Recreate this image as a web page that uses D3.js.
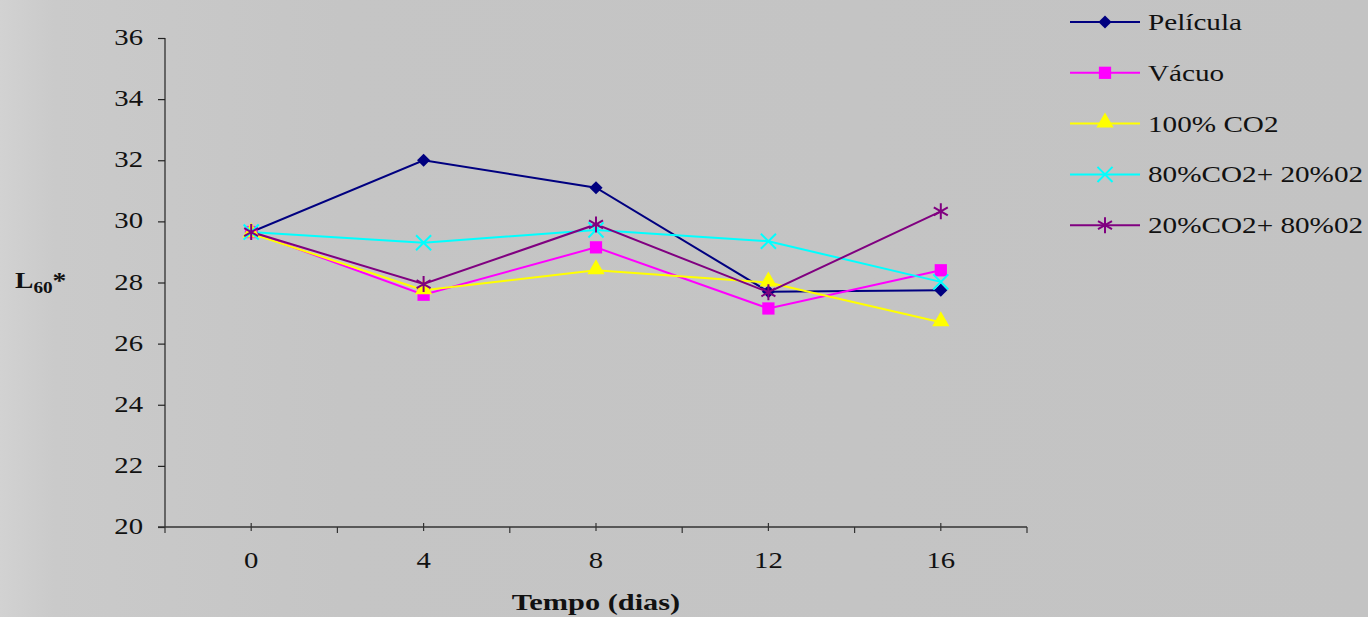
<!DOCTYPE html>
<html>
<head>
<meta charset="utf-8">
<script src="https://cdn.jsdelivr.net/npm/d3@7"></script>
<style>
  body { margin: 0; background: #c3c3c3; }
  svg { display: block; }
</style>
</head>
<body>
<div id="chart"></div>
<script>
// data
var days = ["0", "4", "8", "12", "16"]
var yTicks = [20, 22, 24, 26, 28, 30, 32, 34, 36]
var pelicula = [29.65, 32.0, 31.1, 27.7, 27.75]
var vacuo = [29.65, 27.6, 29.15, 27.15, 28.4]
var co2_100 = [29.6, 27.75, 28.4, 28.0, 26.7]
var co2_80_o2_20 = [29.65, 29.3, 29.72, 29.35, 28.02]
var co2_20_o2_80 = [29.65, 27.95, 29.9, 27.68, 30.33]

var seriesNames = ["Película", "Vácuo", "100% CO2", "80%CO2+ 20%02", "20%CO2+ 80%02"]
var seriesData = [pelicula, vacuo, co2_100, co2_80_o2_20, co2_20_o2_80]
var colors = ["#000080", "#ff00ff", "#ffff00", "#00ffff", "#800080"]
var shapes = ["diamond", "square", "triangle", "x", "star"]

var W = 1368, H = 617
var svg = d3.select("#chart").append("svg")
    .attr("width", W).attr("height", H)

// background, lighter textured strip on the left
var defs = svg.append("defs")
var grad = defs.append("linearGradient").attr("id", "bg").attr("x1", 0).attr("x2", 1).attr("y1", 0).attr("y2", 0)
grad.append("stop").attr("offset", "0").attr("stop-color", "#d2d2d2")
grad.append("stop").attr("offset", "0.04").attr("stop-color", "#cacaca")
grad.append("stop").attr("offset", "0.25").attr("stop-color", "#c5c5c5")
grad.append("stop").attr("offset", "1").attr("stop-color", "#c3c3c3")
svg.append("rect").attr("width", W).attr("height", H).attr("fill", "url(#bg)")

var plot = { left: 165, right: 1027, top: 38, bottom: 527 }

var x = d3.scaleBand()
    .domain(days)
    .range([plot.left, plot.right])
var y = d3.scaleLinear()
    .domain([20, 36])
    .range([plot.bottom, plot.top])

var font = "'Liberation Serif', 'Times New Roman', serif"
var stretch = 1.28

// text is drawn wide, like the original picture
function label(parent, px, py, str, anchor, bold, sx) {
    var g = parent.append("g")
        .attr("transform", "translate(" + px + "," + py + ") scale(" + (sx || stretch) + ",1)")
    return g.append("text")
        .attr("text-anchor", anchor || "start")
        .attr("font-family", font).attr("font-size", 23)
        .attr("font-weight", bold ? "bold" : "normal")
        .attr("fill", "#111")
        .text(str)
}

// y axis
var yAxis = svg.append("g")
    .attr("transform", "translate(" + plot.left + ",0)")
    .call(d3.axisLeft(y).tickValues(yTicks).tickSize(7).tickFormat(""))
yAxis.selectAll("path, line").attr("stroke", "#222").attr("stroke-width", 1.2)
yAxis.select(".domain").attr("d", "M0," + plot.top + "V" + plot.bottom)
yTicks.forEach(function (t) {
    label(svg, plot.left - 22, y(t) + 7, t, "end", false, 1.25)
})

// x axis (category axis, ticks at band edges and small marks at centers)
var xAxis = svg.append("g")
    .attr("transform", "translate(0," + plot.bottom + ")")
xAxis.append("line")
    .attr("x1", plot.left - 7).attr("x2", plot.right)
    .attr("stroke", "#333").attr("stroke-width", 1.5)
var edges = days.map(function (d) { return x(d) }).concat([plot.right])
xAxis.selectAll(".edge").data(edges).enter().append("line")
    .attr("x1", function (d) { return d }).attr("x2", function (d) { return d })
    .attr("y1", 0).attr("y2", 6)
    .attr("stroke", "#333").attr("stroke-width", 1.2)
xAxis.selectAll(".mid").data(days).enter().append("line")
    .attr("x1", function (d) { return x(d) + x.bandwidth() / 2 })
    .attr("x2", function (d) { return x(d) + x.bandwidth() / 2 })
    .attr("y1", -4).attr("y2", 4)
    .attr("stroke", "#333").attr("stroke-width", 1.2)
days.forEach(function (d) {
    label(svg, x(d) + x.bandwidth() / 2, 568, d, "middle", false, 1.25)
})

// axis titles
label(svg, 596, 610, "Tempo (dias)", "middle", true, 1.32)
var yt = svg.append("g").attr("transform", "translate(15,288) scale(1.2,1)")
    .append("text")
    .attr("font-family", font).attr("font-weight", "bold").attr("fill", "#111")
yt.append("tspan").attr("font-size", 23).text("L")
yt.append("tspan").attr("font-size", 16).attr("dy", 5).text("60")
yt.append("tspan").attr("font-size", 23).attr("dy", -5).text("*")

function symbolPath(shape) {
    if (shape === "diamond") return d3.symbol().type(d3.symbolDiamond2).size(110)()
    if (shape === "square") return d3.symbol().type(d3.symbolSquare).size(150)()
    if (shape === "triangle") return d3.symbol().type(d3.symbolTriangle).size(130)()
    if (shape === "x") return d3.symbol().type(d3.symbolTimes).size(150)()
    return "M0,-8V8M-7,-4L7,4M-7,4L7,-4"
}
function drawMarker(g, shape, color) {
    var p = g.append("path").attr("d", symbolPath(shape))
    if (shape === "x" || shape === "star") {
        p.attr("fill", "none").attr("stroke", color).attr("stroke-width", 2)
    } else {
        p.attr("fill", color)
        if (shape === "triangle") p.attr("transform", "translate(0,-1)")
    }
}

var line = d3.line()
    .x(function (d, i) { return x(days[i]) + x.bandwidth() / 2 })
    .y(function (d) { return y(d) })

seriesData.forEach(function (vals, s) {
    svg.append("path")
        .datum(vals)
        .attr("d", line)
        .attr("fill", "none")
        .attr("stroke", colors[s])
        .attr("stroke-width", 2)
})
seriesData.forEach(function (vals, s) {
    vals.forEach(function (v, i) {
        var g = svg.append("g")
            .attr("transform", "translate(" + (x(days[i]) + x.bandwidth() / 2) + "," + y(v) + ")")
        drawMarker(g, shapes[s], colors[s])
    })
})

// legend
var legend = svg.append("g").attr("transform", "translate(1070,22)")
seriesNames.forEach(function (name, s) {
    var row = legend.append("g").attr("transform", "translate(0," + (s * 50.8) + ")")
    row.append("line").attr("x1", 0).attr("x2", 70)
        .attr("stroke", colors[s]).attr("stroke-width", 2)
    var m = row.append("g").attr("transform", "translate(35,0)")
    drawMarker(m, shapes[s], colors[s])
    label(row, 78, 8, name, "start", false, 1.27)
})
</script>
</body>
</html>
